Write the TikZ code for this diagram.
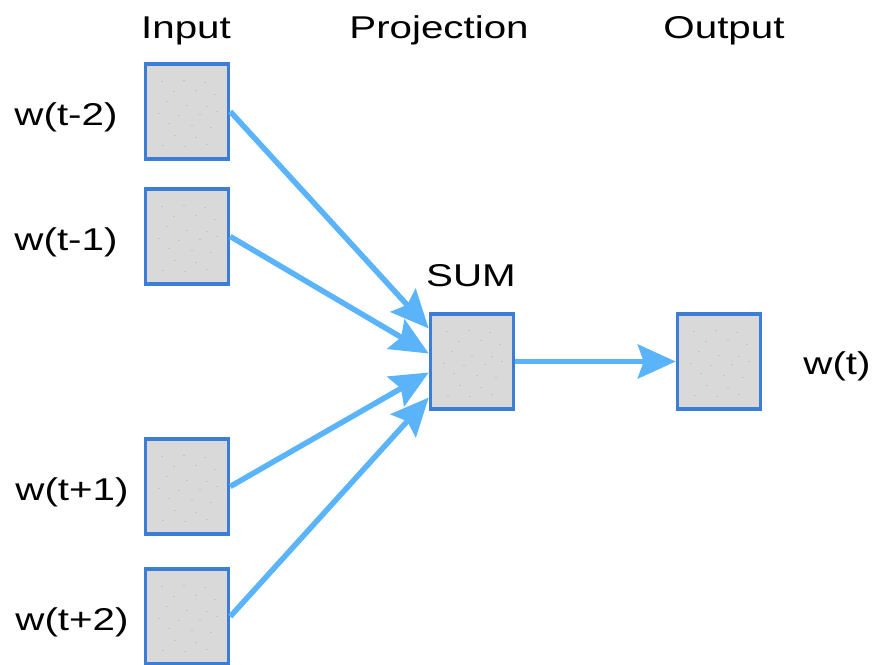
\documentclass[tikz,border=0pt]{standalone}
\usepackage{fontspec}
\setmainfont{Liberation Sans}[FakeStretch=1.28]
\usetikzlibrary{arrows.meta,calc}

\definecolor{boxfill}{HTML}{D9D9D9}
\definecolor{boxedge}{HTML}{3C7ED6}
\definecolor{flow}{HTML}{5BB4F9}
\definecolor{speck}{HTML}{B0B0B0}

\begin{document}
\begin{tikzpicture}[x=1pt,y=-1pt,
  unit/.style={draw=boxedge, fill=boxfill, line width=3.5pt,
    minimum width=83pt, minimum height=95pt, inner sep=0pt,
    path picture={
      \foreach \dx/\dy in {-25/-30,-3/-31,18/-29,-13/-20,9/-21,28/-17,
                           -20/-10,0/-6,20/-5,-28/2,-8/4,13/3,30/0,
                           -18/12,5/14,24/16,-12/24,9/26,-24/34,-2/35,20/33}
        \fill[speck] ($(path picture bounding box.center)+(\dx,\dy)$) circle (0.7pt);
    }},
  lbl/.style={font=\fontsize{31.5}{36}\selectfont, inner sep=0pt, anchor=base},
  link/.style={draw=flow, line width=5.5pt,
    -{Stealth[length=38pt,width=34pt,inset=6pt]}}
]
  \useasboundingbox (0,0) rectangle (874,664);

  % column titles
  \node[lbl] (tin)   at (186,38) {Input};
  \node[lbl] (tproj) at (439,38) {Projection};
  \node[lbl] (tout)  at (724,38) {Output};

  % input context words
  \node[unit] (in1) at (187,111.5) {};
  \node[unit] (in2) at (187,236.5) {};
  \node[unit] (in3) at (187,486.5) {};
  \node[unit] (in4) at (187,616.5) {};

  \node[lbl] (l1) at (66,125) {w(t-2)};
  \node[lbl] (l2) at (66,250) {w(t-1)};
  \node[lbl] (l3) at (72,500) {w(t+1)};
  \node[lbl] (l4) at (72,630) {w(t+2)};

  % projection layer
  \node[unit] (sum) at (472,361.5) {};
  \node[lbl] (lsum) at (471,286) {SUM};

  % output word
  \node[unit] (out) at (719,361.5) {};
  \node[lbl] (lout) at (837,374) {w(t)};

  % connections
  \draw[link] (in1.east) -- ($(sum.west)+(0,-33)$);
  \draw[link] (in2.east) -- ($(sum.west)+(0,-8)$);
  \draw[link] (in3.east) -- ($(sum.west)+(0,11)$);
  \draw[link] (in4.east) -- ($(sum.west)+(0,36)$);
  \draw[link] (sum.east) -- (out.west);
\end{tikzpicture}
\end{document}
